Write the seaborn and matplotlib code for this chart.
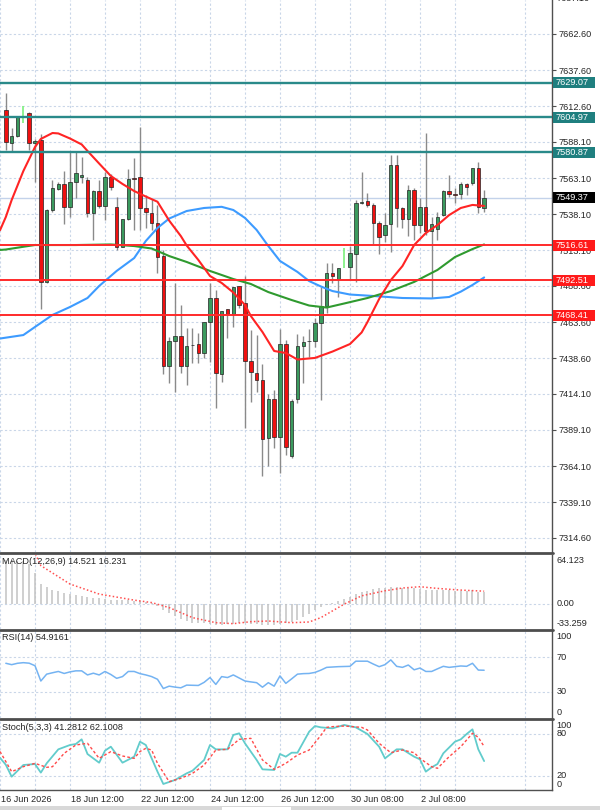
import numpy as np
import matplotlib
matplotlib.use("Agg")
import matplotlib.pyplot as plt
import matplotlib.transforms as mtransforms
from matplotlib.lines import Line2D
from matplotlib.patches import Rectangle
import seaborn as sns

nan = np.nan

# ---- H4 candles (bar index 0..82), prices ----
opens = [7610.1, 7587.5, 7592.1, nan, 7607.8, 7587.1, 7589.4, 7491.5, 7541.0, 7555.3,
         7559.0, 7542.9, 7560.1, 7564.0, 7561.7, 7538.7, 7554.1, 7543.8, 7563.6, 7543.3,
         7515.7, 7534.6, 7562.9, 7563.6, 7542.2, 7539.1, 7531.8, 7509.2, 7433.2, 7450.7,
         7454.0, 7433.2, 7447.7, 7448.4, 7442.4, 7463.4, 7480.0, 7427.7, 7472.4, 7469.2,
         7488.5, 7477.0, 7436.9, 7428.6, 7423.6, 7383.3, 7410.6, 7384.4, 7448.4, 7371.0,
         7410.6, 7447.0, 7450.7, 7450.5, 7463.1, 7474.7, 7497.3, 7493.1, nan, 7501.8,
         7510.6, 7545.6, 7547.2, 7544.5, 7532.2, 7523.7, 7531.3, 7572.4, 7542.2, 7534.6,
         7554.8, 7530.6, 7542.9, 7526.5, 7527.9, 7537.6, 7554.3, 7552.1, 7552.1, 7559.0,
         7559.5, 7569.8, 7542.2]
highs = [7622.0, 7597.7, 7606.0, nan, 7608.7, 7590.1, 7593.5, 7541.7, 7561.7, 7560.4,
         7568.2, 7581.3, 7581.3, 7577.8, 7563.8, 7554.8, 7561.7, 7567.5, 7565.9, 7550.2,
         7534.8, 7569.1, 7577.1, 7598.6, 7551.4, 7548.4, 7544.5, 7513.4, 7453.5, 7490.4,
         7475.4, 7459.3, 7459.3, 7455.8, 7463.8, 7490.4, 7485.7, 7471.4, 7472.6, 7488.0,
         7488.5, 7495.4, 7458.1, 7454.6, 7434.4, 7413.9, 7416.6, 7458.6, 7451.2, 7410.4,
         7455.3, 7454.0, 7458.6, 7466.2, 7488.0, 7504.2, 7504.2, 7501.1, nan, 7516.1,
         7547.9, 7567.5, 7553.0, 7545.8, 7533.4, 7538.9, 7579.0, 7579.0, 7543.1, 7558.3,
         7556.0, 7549.3, 7594.0, 7536.2, 7539.6, 7554.8, 7565.2, 7556.2, 7560.4, 7559.7,
         7570.0, 7574.4, 7554.8]
lows = [7582.5, 7581.3, 7591.4, nan, 7582.5, 7560.6, 7472.4, 7490.6, 7539.8, 7554.8,
        7531.3, 7536.4, 7549.1, 7559.7, 7536.2, 7520.3, 7542.4, 7534.1, 7554.8, 7513.4,
        7515.4, 7534.1, 7527.2, 7527.2, 7528.4, 7527.2, 7497.3, 7427.7, 7421.3, 7415.5,
        7428.2, 7420.1, 7435.1, 7435.1, 7438.5, 7436.2, 7404.0, 7422.4, 7452.4, 7460.4,
        7473.3, 7390.2, 7408.6, 7415.5, 7357.2, 7364.1, 7376.4, 7359.5, 7371.7, 7369.7,
        7407.5, 7421.3, 7439.7, 7446.4, 7409.7, 7469.6, 7490.4, 7481.1, nan, 7493.1,
        7491.5, 7545.2, 7543.3, 7517.5, 7510.6, 7519.1, 7512.2, 7529.5, 7528.6, 7523.0,
        7520.3, 7525.1, 7523.7, 7480.2, 7520.3, 7536.9, 7550.0, 7545.8, 7548.6, 7551.4,
        7558.3, 7538.7, 7539.8]
closes = [7588.2, 7592.1, 7605.5, nan, 7587.1, 7588.7, 7491.5, 7541.0, 7555.9, 7559.0,
          7542.9, 7560.1, 7566.4, 7565.2, 7538.7, 7554.3, 7543.8, 7564.0, 7556.7, 7515.7,
          7534.6, 7562.2, 7562.6, 7542.2, 7539.8, 7531.8, 7508.3, 7433.2, 7450.7, 7454.0,
          7433.2, 7447.0, 7447.4, 7442.4, 7463.8, 7480.4, 7428.6, 7471.4, 7469.2, 7488.0,
          7475.4, 7436.9, 7429.3, 7423.6, 7382.6, 7410.6, 7384.4, 7448.4, 7377.1, 7409.0,
          7447.0, 7450.0, 7450.4, 7463.1, 7474.7, 7497.3, 7495.4, 7501.1, nan, 7511.1,
          7545.6, 7546.5, 7544.5, 7532.2, 7522.4, 7530.6, 7572.4, 7542.2, 7534.6, 7554.8,
          7530.6, 7542.9, 7526.7, 7531.3, 7536.4, 7554.3, 7552.1, 7551.4, 7559.0, 7557.1,
          7569.8, 7542.9, 7549.37]

# light green arrow marks
mark_bars = [3, 58]
mark_hi = [7612.9, 7514.5]
mark_lo = [7600.9, 7500.7]

# moving averages (bar, price)
ma_red_x = [-1, 0, 1, 3, 5, 6, 8, 9, 11, 13, 14, 16, 18, 20, 22, 24, 26, 28, 30, 31, 33, 35, 37, 39, 41,
            42, 44, 46, 48, 50, 53, 56, 59, 61, 62, 64, 66, 68, 70, 72, 74, 76, 78, 80, 82]
ma_red_y = [7527.0, 7536.2, 7547.9, 7567.9, 7584.5, 7590.1, 7594.2, 7593.9, 7590.4, 7586.3, 7581.8,
            7573.1, 7564.5, 7559.0, 7554.1, 7550.3, 7546.7, 7533.7, 7523.0, 7516.5, 7506.5, 7495.4,
            7490.6, 7484.0, 7475.4, 7467.8, 7456.7, 7443.6, 7442.2, 7437.7, 7438.8, 7443.2, 7448.4,
            7456.4, 7463.6, 7479.5, 7492.6, 7502.3, 7516.8, 7525.1, 7530.6, 7537.5, 7542.4, 7544.5,
            7543.8]
ma_blue_x = [-1, 0, 3, 5, 8, 11, 14, 16, 19, 22, 24, 26, 28, 31, 34, 37, 39, 41, 43, 45, 47, 50, 52,
             54, 56, 59, 63, 68, 73, 76, 78, 80, 82]
ma_blue_y = [7452.2, 7452.8, 7454.6, 7460.2, 7468.5, 7474.0, 7480.2, 7488.5, 7498.9, 7507.8, 7519.6,
             7528.6, 7535.1, 7540.3, 7542.4, 7543.2, 7541.0, 7535.5, 7527.2, 7516.1, 7505.8, 7498.2,
             7491.9, 7488.2, 7485.0, 7482.6, 7481.6, 7480.2, 7479.9, 7480.9, 7484.6, 7489.2, 7494.4]
ma_green_x = [-1, 0, 3, 5, 12, 18, 22, 25, 28, 31, 35, 39, 42, 45, 49, 52, 55, 58, 62, 66, 70, 74,
              77, 80, 82]
ma_green_y = [7513.4, 7513.7, 7515.6, 7516.8, 7516.8, 7517.2, 7516.1, 7514.4, 7509.2, 7505.1, 7498.9,
              7493.3, 7489.9, 7484.3, 7478.8, 7475.0, 7473.6, 7476.4, 7480.2, 7485.0, 7491.3, 7499.6,
              7508.5, 7514.0, 7517.2]

# horizontal levels
resist_levels = [7629.07, 7604.97, 7580.87]
support_levels = [7516.61, 7492.51, 7468.41]
last_price = 7549.37
price_ticks = [7662.60, 7637.60, 7612.60, 7588.10, 7563.10, 7538.10, 7513.10, 7488.60,
               7463.60, 7438.60, 7414.10, 7389.10, 7364.10, 7339.10, 7314.60]

# MACD(12,26,9)
macd_hist = [57, 57, 56, 55, 52, 40, 26, 22, 18, 16, 14, 13, 11, 10, 8, 7, 7, 6, 5, 5,
             4, 4, 3, 3, 2, 1, -3, -8, -12, -16, -20, -23, -25, -26, -26, -27, -28, -28, -27, -27,
             -26, -26, -27, -27, -28, -28, -28, -27, -26, -24, -21, -17, -13, -9, -5, -2, 1, 3, 6, 8,
             12, 15, 17, 19, 20, 20, 21, 21, 20, 20, 20, 19, 18, 18, 18, 18, 18, 17, 17, 17,
             18, 15, 14.5]
macd_sig_x = [0, 5, 6, 11, 16, 22, 25, 28, 32, 36, 39, 42, 45, 49, 52, 54, 56, 58, 61, 65, 68, 71,
              74, 78, 82]
macd_sig_y = [70, 66, 49.6, 25.5, 12.4, 4.5, 1.3, -5.3, -18.4, -25, -26.3, -23.7, -22.8, -25, -24.1,
              -18.4, -9.6, -0.8, 10.1, 16.7, 20.3, 22, 19.8, 17.6, 16.2]

# RSI(14)
rsi = [62.9, 61.3, 62.9, 63.6, 63.0, 60.1, 42.5, 50.4, 52.0, 53.5,
       51.2, 53.0, 54.2, 54.2, 49.5, 51.5, 49.5, 53.5, 50.0, 45.6,
       47.6, 53.5, 53.5, 51.0, 49.5, 47.6, 44.5, 33.9, 36.6, 35.5,
       34.7, 37.8, 37.6, 37.4, 41.0, 46.5, 38.6, 47.6, 46.5, 49.5,
       46.0, 42.5, 41.5, 40.6, 35.4, 40.6, 36.6, 48.4, 39.8, 45.0,
       50.4, 51.0, 51.2, 52.4, 55.0, 58.2, 58.6, 59.0, 59.2, 59.4,
       65.3, 65.3, 65.3, 62.0, 59.0, 61.3, 66.8, 59.4, 58.2, 60.9,
       55.4, 57.4, 53.5, 53.5, 56.5, 59.4, 58.2, 59.0, 59.8, 59.4,
       62.9, 55.1, 54.9]

# Stochastic(5,3,3)
sto_k_x = [-1, 0, 1, 3, 5, 6, 7, 9, 11, 12, 13, 14, 16, 17, 18, 20, 22, 23, 24, 26, 27, 29, 31, 32,
           34, 35, 36, 38, 39, 40, 41, 43, 44, 46, 47, 48, 49, 50, 52, 53, 54, 56, 58, 60, 62, 64,
           65, 67, 68, 70, 71, 72, 73, 74, 75, 77, 78, 79, 80, 81, 82]
sto_k_y = [46, 36, 19, 35.7, 37.1, 24.8, 38.1, 58.1, 64.3, 65.7, 72.4, 51.4, 39, 56.2, 61.9, 39, 47.6,
           69, 64.3, 26.2, 8.6, 14.3, 23.8, 27.6, 42.9, 64.3, 58.1, 58.1, 78.6, 81, 66.7, 42.9, 29.5,
           28.6, 51.4, 47.6, 53.3, 53.3, 83.3, 91.4, 89.5, 88.1, 92.9, 89.5, 80, 61.9, 45.2, 58.1,
           58.1, 47.6, 43.8, 26.2, 32.4, 37.1, 52.4, 69, 72.4, 80, 86.7, 58.1, 41.3]
sto_d_x = [-1, 1, 3, 5, 7, 8, 10, 12, 14, 16, 18, 20, 22, 23, 24, 25, 26, 28, 30, 32, 34, 36, 38, 40,
           42, 44, 46, 48, 50, 52, 54, 55, 56, 58, 61, 62, 64, 66, 68, 70, 71, 73, 74, 76, 78, 80,
           81, 82]
sto_d_y = [55, 26.2, 33.3, 38.1, 32.4, 33.3, 52.4, 64.3, 66.7, 45.2, 54.8, 48.6, 45.2, 55, 59.5, 57.1,
           38.1, 11.9, 16.7, 23.8, 35.7, 57.1, 58.1, 72.4, 73.8, 42.9, 29.5, 38.1, 50, 57.1, 78, 89.5,
           90.5, 91.4, 89.5, 85.7, 66.7, 53.3, 57.1, 53.3, 45.2, 33.3, 31, 47.6, 61.9, 81, 75.2, 62.1]

# time axis
time_bars = [-1, 11, 23, 35, 47, 59, 71]
time_labels = ["16 Jun 2026", "18 Jun 12:00", "22 Jun 12:00", "24 Jun 12:00",
               "26 Jun 12:00", "30 Jun 08:00", "2 Jul 08:00"]

# ------------------------------------------------------------------
sns.set_style("white")
plt.rcParams['font.family'] = ['Liberation Sans', 'DejaVu Sans']

W, H = 600, 810
PLOT_W = 552
BAR_PX = 5.86
X0 = -3.3 / BAR_PX
X1 = X0 + PLOT_W / BAR_PX
FS = 6.6
grid_c = '#c9d6e8'
axis_c = '#505050'
txt_c = '#262626'

fig = plt.figure(figsize=(W / 100, H / 100), dpi=100)


def px_axes(top, bottom):
    return fig.add_axes([0, 1 - bottom / H, PLOT_W / W, (bottom - top) / H])


def style_panel(a, bottom_ticks=False):
    a.set_xlim(X0, X1)
    a.set_xticks(time_bars)
    a.set_xticks(np.arange(5, 95, 12), minor=True)
    a.grid(which='both', axis='x', color=grid_c, ls=(0, (2, 2)), lw=0.8)
    a.tick_params(axis='x', which='both', length=0, labelbottom=False)
    if bottom_ticks:
        a.tick_params(axis='x', which='major', length=4, width=0.8, color=axis_c, direction='out')
    for s in ['top', 'bottom', 'left']:
        a.spines[s].set_visible(False)
    a.spines['right'].set_color(axis_c)
    a.spines['right'].set_linewidth(1.0)
    a.set_xlabel('')
    a.set_ylabel('')
    a.set_facecolor('white')


ax = px_axes(0, 552)
ax_macd = px_axes(554.5, 629)
ax_rsi = px_axes(631, 718)
ax_sto = px_axes(720, 790)

# ---- main price panel ----
style_panel(ax)
ax.set_ylim(7686.09 - PLOT_W * 0.6909, 7686.09)
ax.yaxis.tick_right()
ax.set_yticks(price_ticks)
ax.set_yticklabels([f"{p:.2f}" for p in price_ticks])
ax.tick_params(axis='y', length=3, width=0.8, color=axis_c, pad=2, labelsize=FS, labelcolor=txt_c)
ax.grid(axis='y', color=grid_c, ls=(0, (2, 2)), lw=0.8)
ax.text(1.008, 7687.10, "7687.10", transform=mtransforms.blended_transform_factory(ax.transAxes, ax.transData),
        ha='left', va='center', fontsize=FS, color=txt_c, clip_on=False)

ax.axhline(last_price, color='#c3d2ea', lw=1.0, zorder=1)

bars = np.arange(len(opens))
o = np.array(opens); c = np.array(closes); h = np.array(highs); l = np.array(lows)
ok = ~np.isnan(o)
ax.vlines(bars[ok], l[ok], h[ok], color='#8a8a8a', lw=1.0, zorder=3)
up = ok & (c >= o)
dn = ok & (c < o)
ax.bar(bars[up], np.maximum(c[up] - o[up], 0.4), bottom=o[up], width=0.58,
       color='#3b9a5e', edgecolor='#222222', linewidth=0.5, zorder=4)
ax.bar(bars[dn], np.maximum(o[dn] - c[dn], 0.4), bottom=c[dn], width=0.58,
       color='#f01010', edgecolor='#222222', linewidth=0.5, zorder=4)
ax.vlines(mark_bars, mark_lo, mark_hi, color='#7cf07c', lw=1.2, zorder=5)

sns.lineplot(x=ma_blue_x, y=ma_blue_y, ax=ax, color='#3d9bff', lw=1.5, zorder=5)
sns.lineplot(x=ma_green_x, y=ma_green_y, ax=ax, color='#2f9a2f', lw=1.5, zorder=5)
sns.lineplot(x=ma_red_x, y=ma_red_y, ax=ax, color='#ff2424', lw=1.5, zorder=6)

for lvl in resist_levels:
    ax.axhline(lvl, color='#2a8a8a', lw=1.7, zorder=7)
for lvl in support_levels:
    ax.axhline(lvl, color='#ff2a2a', lw=1.4, zorder=7)

blend = mtransforms.blended_transform_factory(ax.transAxes, ax.transData)
box_h = 11 / 1.4474


def price_box(p, fc):
    ax.add_patch(Rectangle((553 / PLOT_W, p - box_h / 2), 42 / PLOT_W, box_h, transform=blend,
                           facecolor=fc, edgecolor='none', clip_on=False, zorder=20))
    ax.text(555.5 / PLOT_W, p, f"{p:.2f}", transform=blend, ha='left', va='center',
            fontsize=FS, color='white', clip_on=False, zorder=21)


for lvl in resist_levels:
    price_box(lvl, '#1f7f7f')
for lvl in support_levels:
    price_box(lvl, '#ff1a1a')
price_box(last_price, '#000000')

# ---- MACD ----
style_panel(ax_macd)
ax_macd.set_ylim(-33.259, 64.123)
ax_macd.set_yticks([])
ax_macd.axhline(0, color=grid_c, ls=(0, (2, 2)), lw=0.8)
ax_macd.vlines(bars, 0, macd_hist, color='#c2c2c2', lw=1.1, zorder=3)
sns.lineplot(x=macd_sig_x, y=macd_sig_y, ax=ax_macd, color='#ff5050', lw=1.1, ls=(0, (1, 1.5)), zorder=4)
ax_macd.text(0.003, 0.97, "MACD(12,26,9) 14.521 16.231", transform=ax_macd.transAxes,
             ha='left', va='top', fontsize=FS, color=txt_c, zorder=6)

# ---- RSI ----
style_panel(ax_rsi)
ax_rsi.set_ylim(0, 100)
ax_rsi.set_yticks([])
for lv in (70, 30):
    ax_rsi.axhline(lv, color=grid_c, ls=(0, (2, 2)), lw=0.8)
sns.lineplot(x=bars, y=rsi, ax=ax_rsi, color='#74b3f2', lw=1.1, zorder=4)
ax_rsi.text(0.003, 0.975, "RSI(14) 54.9161", transform=ax_rsi.transAxes,
            ha='left', va='top', fontsize=FS, color=txt_c)

# ---- Stochastic ----
style_panel(ax_sto, bottom_ticks=True)
ax_sto.set_ylim(0, 100)
ax_sto.set_yticks([])
for lv in (80, 20):
    ax_sto.axhline(lv, color=grid_c, ls=(0, (2, 2)), lw=0.8)
sns.lineplot(x=sto_k_x, y=sto_k_y, ax=ax_sto, color='#62cccc', lw=1.3, zorder=4)
sns.lineplot(x=sto_d_x, y=sto_d_y, ax=ax_sto, color='#ff4a4a', lw=1.0, ls=(0, (2, 1.6)), zorder=5)
ax_sto.text(0.003, 0.96, "Stoch(5,3,3) 41.2812 62.1008", transform=ax_sto.transAxes,
            ha='left', va='top', fontsize=FS, color=txt_c)
ax_sto.spines['bottom'].set_visible(True)
ax_sto.spines['bottom'].set_color(axis_c)
ax_sto.spines['bottom'].set_linewidth(1.0)

# indicator scale labels
for a, top_lbl, mids, bot_lbl in [
        (ax_macd, "64.123", [(0, "0.00")], "-33.259"),
        (ax_rsi, "100", [(70, "70"), (30, "30")], "0"),
        (ax_sto, "100", [(80, "80"), (20, "20")], "0")]:
    bt = mtransforms.blended_transform_factory(a.transAxes, a.transData)
    a.text(1.008, 0.985, top_lbl, transform=a.transAxes, ha='left', va='top', fontsize=FS,
           color=txt_c, clip_on=False)
    for v, s in mids:
        a.text(1.008, v, s, transform=bt, ha='left', va='center', fontsize=FS, color=txt_c, clip_on=False)
    a.text(1.008, 0.01, bot_lbl, transform=a.transAxes, ha='left', va='bottom', fontsize=FS,
           color=txt_c, clip_on=False)

# time labels under the last panel
tt = mtransforms.blended_transform_factory(ax_sto.transData, ax_sto.transAxes)
for b, s in zip(time_bars, time_labels):
    ax_sto.text(b + 0.25, -0.14, s, transform=tt, ha='left', va='center', fontsize=FS,
                color=txt_c, clip_on=False)

# panel separators
for y in (553.3, 630.0, 719.0):
    fig.add_artist(Line2D([0, (PLOT_W + 1) / W], [1 - y / H, 1 - y / H], transform=fig.transFigure,
                          color='#4d4d4d', lw=2.0))
# bottom tab strip
fig.add_artist(Rectangle((0, 0), 1, 4 / H, transform=fig.transFigure, facecolor='#d8d8d8', edgecolor='none'))
fig.add_artist(Rectangle((222 / W, 0), 69 / W, 3 / H, transform=fig.transFigure, facecolor='white',
                         edgecolor='none'))

fig.savefig("out.png", dpi=100, facecolor='white')
